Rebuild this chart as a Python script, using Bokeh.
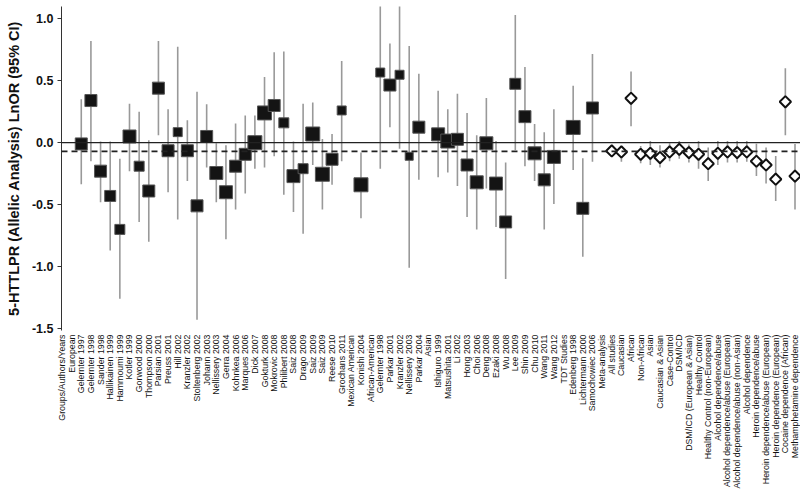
import math
from bokeh.plotting import figure
from bokeh.models import ColumnDataSource, Span, FixedTicker, PrintfTickFormatter, Range1d
from bokeh.embed import file_html
from bokeh.resources import INLINE

labels = [
    "Groups/Authors/Years", "European", "Gelernter 1997", "Gelernter 1998", "Sander 1998",
    "Hallikainen 1999", "Hammoumi 1999", "Kotler 1999", "Gorwood 2000", "Thompson 2000",
    "Parsian 2001", "Preuss 2001", "Hill 2002", "Kranzler 2002", "Stoltenberg 2002",
    "Johann 2003", "Nellissery 2003", "Gerra 2004", "Kohnkea 2006", "Marques 2006",
    "Dick 2007", "Gokturk 2008", "Mokrovic 2008", "Philibert 2008", "Saiz 2008",
    "Drago 2009", "Saiz 2009", "Saiz 2009", "Reese 2010", "Grochans 2011",
    "Mexican American", "Konishi 2004", "African-American", "Gelernter 1998", "Parkar 2001",
    "Kranzler 2002", "Nellissery 2003", "Parkar 2004", "Asian", "Ishiguro 1999",
    "Matsushita 2001", "Li 2002", "Hong 2003", "Choi 2006", "Deng 2008",
    "Ezaki 2008", "Wu 2008", "Lee 2009", "Shin 2009", "Chu 2010",
    "Wang 2011", "Wang 2012", "TDT Studies", "Edenberg 1998", "Lichtermann 2000",
    "Samochowiec 2006", "Meta-analysis", "All studies", "Caucasian", "African",
    "Non-African", "Asian", "Caucasian & Asian", "Case-Control", "DSM/ICD",
    "DSM/ICD (European & Asian)", "Healthy Control", "Healthy Control (non-European)",
    "Alcohol dependence/abuse", "Alcohol dependence/abuse (European)",
    "Alcohol dependence/abuse (non-Asian)", "Alcohol dependence", "Heroin dependence/abuse",
    "Heroin dependence/abuse (European)", "Heroin dependence (European)",
    "Cocaine dependence (African)", "Methamphetamine dependence",
]

lnor = [
    None, None, -0.01, 0.34, -0.23, -0.43, -0.70, 0.05, -0.19, -0.39,
    0.44, -0.065, 0.085, -0.065, -0.51, 0.05, -0.245, -0.40, -0.19, -0.094,
    0.0, 0.24, 0.30, 0.16, -0.27, -0.21, 0.07, -0.255, -0.134, 0.26,
    None, -0.34, None, 0.566, 0.465, 0.548, -0.11, 0.125, None, 0.067,
    0.013, 0.027, -0.18, -0.32, -0.005, -0.33, -0.64, 0.475, 0.21, -0.086,
    -0.30, -0.115, None, 0.123, -0.53, 0.28, None, -0.067, -0.075, 0.358,
    -0.094, -0.086, -0.12, -0.075, -0.054, -0.08, -0.094, -0.17,
    -0.086, -0.075, -0.08, -0.075, -0.15, -0.18, -0.295, 0.33, -0.27,
]

ci_low = [
    None, None, -0.335, -0.15, -0.48, -0.87, -1.26, -0.23, -0.64, -0.80,
    0.06, -0.40, -0.62, -0.31, -1.43, -0.20, -0.48, -0.78, -0.54, -0.41,
    -0.21, -0.20, -0.11, -0.42, -0.56, -0.735, -0.18, -0.54, -0.34, -0.15,
    None, -0.61, None, -0.21, 0.125, -0.05, -1.01, -0.30, None, -0.28,
    -0.24, -0.35, -0.60, -0.70, -0.37, -0.68, -1.10, -0.06, -0.19, -0.31,
    -0.70, -0.495, None, -0.22, -0.92, -0.155, None, -0.11, -0.155, 0.133,
    -0.166, -0.18, -0.20, -0.15, -0.13, -0.16, -0.21, -0.31,
    -0.18, -0.16, -0.16, -0.155, -0.27, -0.33, -0.47, 0.06, -0.54,
]

ci_high = [
    None, None, 0.35, 0.82, 0.01, 0.01, -0.13, 0.315, 0.25, 0.02,
    0.82, 0.27, 0.775, 0.18, 0.41, 0.31, -0.005, -0.02, 0.155, 0.22,
    0.22, 0.53, 0.73, 0.735, 0.01, 0.315, 0.325, 0.03, 0.07, 0.66,
    None, -0.08, None, 1.25, 0.80, 1.13, 0.78, 0.556, None, 0.42,
    0.27, 0.395, 0.24, 0.06, 0.36, 0.013, -0.16, 1.03, 0.61, 0.15,
    0.085, 0.27, None, 0.46, -0.126, 0.716, None, -0.02, -0.027, 0.575,
    -0.027, 0.013, -0.02, -0.005, 0.013, -0.014, 0.013, -0.04,
    0.013, 0.013, 0.013, 0.013, -0.008, -0.04, -0.107, 0.60, -0.01,
]

# relative study weight (drawn as square size)
weight = [
    None, None, 12, 12, 12, 11, 10, 13, 10, 12,
    12, 12, 9, 12, 12, 12, 13, 13, 12, 12,
    14, 14, 12, 10, 13, 10, 14, 14, 12, 9,
    None, 14, None, 9, 12, 9, 8, 12, None, 13,
    14, 12, 12, 13, 13, 13, 12, 11, 12, 13,
    12, 13, None, 14, 12, 12, None, None, None, None,
    None, None, None, None, None, None, None, None,
    None, None, None, None, None, None, None, None, None,
]

meta_start = labels.index("Meta-analysis")

st = dict(x=[], y=[], lo=[], hi=[], w=[])
mt = dict(x=[], y=[], lo=[], hi=[])
for i, v in enumerate(lnor):
    if v is None:
        continue
    if i < meta_start:
        st["x"].append(i); st["y"].append(v); st["lo"].append(ci_low[i])
        st["hi"].append(ci_high[i]); st["w"].append(weight[i])
    else:
        mt["x"].append(i); mt["y"].append(v); mt["lo"].append(ci_low[i])
        mt["hi"].append(ci_high[i])

src_s = ColumnDataSource(st)
src_m = ColumnDataSource(mt)

p = figure(width=800, height=500, output_backend="svg", toolbar_location=None,
           x_range=Range1d(-0.05, 76.57), y_range=Range1d(-1.516, 1.099),
           min_border_left=61, min_border_right=0, min_border_top=6, min_border_bottom=170)
p.xgrid.visible = False
p.ygrid.visible = False
p.outline_line_color = None
p.background_fill_color = "white"

p.add_layout(Span(location=0, dimension="width", line_color="#222222", line_width=1.2))
p.add_layout(Span(location=-0.07, dimension="width", line_color="#222222", line_width=1.6,
                  line_dash="6 4"))

p.segment(x0="x", y0="lo", x1="x", y1="hi", source=src_s, line_color="#999999", line_width=1.6)
p.segment(x0="x", y0="lo", x1="x", y1="hi", source=src_m, line_color="#999999", line_width=1.6)
p.scatter(x="x", y="y", size="w", source=src_s, marker="square",
          fill_color="#141414", line_color="#555555", line_width=1)
p.scatter(x="x", y="y", size=8, source=src_m, marker="square", angle=math.pi / 4,
          fill_color="white", line_color="#111111", line_width=2)

xa = p.xaxis[0]
xa.ticker = FixedTicker(ticks=list(range(len(labels))))
xa.major_label_overrides = {i: lab for i, lab in enumerate(labels)}
xa.major_label_orientation = math.pi / 2
xa.axis_line_color = None
xa.major_tick_line_color = None
xa.major_tick_out = 0
xa.major_tick_in = 0
xa.minor_tick_line_color = None
xa.minor_tick_out = 0
xa.major_label_standoff = 4
xa.major_label_text_font = "Liberation Sans"
xa.major_label_text_font_size = "8.8px"
xa.major_label_text_color = "#111111"

ya = p.yaxis[0]
ya.ticker = FixedTicker(ticks=[-1.5, -1.0, -0.5, 0.0, 0.5, 1.0])
ya.formatter = PrintfTickFormatter(format="%.1f")
ya.axis_label = "5-HTTLPR (Allelic Analysis) LnOR (95% CI)"
ya.axis_label_text_font = "Liberation Sans"
ya.axis_label_text_font_style = "bold"
ya.axis_label_text_font_size = "14.5px"
ya.axis_label_text_color = "#111111"
ya.axis_label_standoff = 7
ya.major_label_text_font = "Liberation Sans"
ya.major_label_text_font_style = "bold"
ya.major_label_text_font_size = "12.5px"
ya.major_label_text_color = "#111111"
ya.major_label_standoff = 4
ya.major_tick_out = 4
ya.major_tick_in = 0
ya.minor_tick_line_color = None
ya.axis_line_color = "#333333"
ya.major_tick_line_color = "#333333"

open("out.html", "w").write(file_html(p, INLINE))
